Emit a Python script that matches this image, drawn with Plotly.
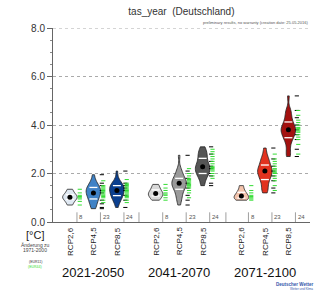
import numpy as np
import plotly.graph_objects as go

# ---------------- data ----------------
periods = ["2021-2050", "2041-2070", "2071-2100"]
scenarios = ["RCP2,6", "RCP4,5", "RCP8,5"]
model_counts = [8, 23, 24]
positions = [0, 1, 2, 3.65, 4.65, 5.65, 7.3, 8.3, 9.3]
separators = [2.94, 6.64]

eur11 = [
    [],
    [0.55, 0.6, 0.75, 0.9, 1.2, 1.3, 1.5, 1.6, 1.95],
    [0.6, 0.9, 1.1, 1.3, 1.4, 1.5, 1.6, 2.1],
    [],
    [0.7, 0.9, 1.1, 1.4, 1.6, 1.8, 2.1, 2.75],
    [1.5, 1.6, 1.9, 2.0, 2.2, 2.3, 2.5, 2.8, 3.1],
    [],
    [1.2, 1.4, 1.7, 1.9, 2.1, 2.3, 2.6, 3.05],
    [2.7, 3.0, 3.4, 3.6, 3.8, 4.0, 4.3, 4.6, 5.2],
]
eur44 = [
    [0.7, 0.85, 0.95, 1.0, 1.05, 1.1, 1.2, 1.35],
    [0.8, 0.9, 1.0, 1.05, 1.1, 1.15, 1.2, 1.25, 1.3, 1.35, 1.4, 1.45, 1.5, 1.7],
    [0.8, 0.9, 1.0, 1.05, 1.1, 1.15, 1.2, 1.25, 1.3, 1.35, 1.4, 1.45, 1.5, 1.55, 1.6, 1.75],
    [0.9, 1.0, 1.1, 1.15, 1.2, 1.3, 1.4, 1.55],
    [1.0, 1.2, 1.3, 1.4, 1.45, 1.5, 1.55, 1.6, 1.65, 1.7, 1.75, 1.8, 1.9, 2.0, 2.2],
    [1.8, 1.9, 2.0, 2.1, 2.15, 2.2, 2.25, 2.3, 2.4, 2.5, 2.6, 2.7, 2.8, 2.9, 3.0],
    [0.9, 0.95, 1.0, 1.05, 1.1, 1.2, 1.3, 1.5],
    [1.3, 1.5, 1.7, 1.8, 1.9, 2.0, 2.05, 2.1, 2.15, 2.2, 2.3, 2.4, 2.5, 2.6, 2.8],
    [2.8, 3.2, 3.4, 3.5, 3.6, 3.7, 3.75, 3.8, 3.85, 3.9, 4.0, 4.1, 4.2, 4.4, 4.6],
]
fill_colors = ["#dfe8f2", "#3f82c6", "#0b3f8f",
               "#d8d8d8", "#9a9a9a", "#555555",
               "#f4c4ad", "#e2321f", "#a3110f"]
y_ticks = [0, 2, 4, 6, 8]
y_tick_labels = ["0.0", "2.0", "4.0", "6.0", "8.0"]

# plot area in pixels (for converting label positions to paper coords)
L, R, T, B = 53, 310, 28, 222


def px(xp):
    return (xp - L) / (R - L)


def py(yp):
    return (B - yp) / (B - T)


fig = go.Figure()

for i, pos in enumerate(positions):
    vals = np.array(eur11[i] + eur44[i])
    fig.add_trace(go.Violin(
        x=[pos] * len(vals), y=vals, width=0.62, scalemode="width",
        spanmode="hard", bandwidth=0.17 if np.ptp(vals) > 1 else 0.11,
        fillcolor=fill_colors[i], line=dict(color="#222222", width=0.8),
        points=False, box_visible=False, meanline_visible=False,
        opacity=1, hoverinfo="skip", showlegend=False))
    q1, q3 = np.percentile(vals, [25, 75])
    for q in (q1, q3):
        fig.add_trace(go.Scatter(
            x=[pos - 0.17, pos + 0.17], y=[q, q], mode="lines",
            line=dict(color="white", width=1.3), showlegend=False,
            hoverinfo="skip"))
    fig.add_trace(go.Scatter(
        x=[pos], y=[np.median(vals)], mode="markers",
        marker=dict(color="black", size=5), showlegend=False))
    if eur11[i]:
        fig.add_trace(go.Scatter(
            x=[pos + 0.36] * len(eur11[i]), y=eur11[i], mode="markers",
            marker=dict(symbol="line-ew", size=3,
                        line=dict(color="black", width=1)),
            showlegend=False))
    fig.add_trace(go.Scatter(
        x=[pos + 0.42] * len(eur44[i]), y=eur44[i], mode="markers",
        marker=dict(symbol="line-ew", size=3,
                    line=dict(color="#33dd33", width=1)),
        showlegend=False))

shapes = []
annotations = []
for i, pos in enumerate(positions):
    shapes.append(dict(type="line", xref="x", yref="y",
                       x0=pos + 0.3, x1=pos + 0.3, y0=0, y1=0.4,
                       line=dict(color="#888888", width=0.8)))
    annotations.append(dict(x=pos + 0.32, y=0.0, xref="x", yref="y",
                            text=str(model_counts[i % 3]), showarrow=False,
                            xanchor="left", yanchor="bottom",
                            font=dict(size=6, color="#555555")))
    annotations.append(dict(x=pos, y=py(241), xref="x", yref="paper",
                            text=scenarios[i % 3], textangle=-90,
                            showarrow=False, xanchor="center",
                            yanchor="middle",
                            font=dict(size=8, color="#222222",
                                      family="Liberation Sans")))
for s in separators:
    shapes.append(dict(type="line", xref="x", yref="y", x0=s, x1=s,
                       y0=0, y1=0.4, line=dict(color="#888888", width=0.8)))
for g in range(3):
    annotations.append(dict(x=positions[3 * g + 1], y=py(272), xref="x",
                            yref="paper", text=periods[g], showarrow=False,
                            xanchor="center", yanchor="middle",
                            font=dict(size=13, color="#111111",
                                      family="Liberation Sans")))

left = [("[°C]", 235, 11, "#222222"),
        ("Änderung zu", 245, 5, "#444444"),
        ("1971-2000", 250, 5, "#444444"),
        ("(EUR11)", 262, 3.5, "#333333"),
        ("(EUR44)", 267, 3.5, "#33dd33")]
for txt, ypx, sz, col in left:
    annotations.append(dict(x=px(35), y=py(ypx), xref="paper",
                            yref="paper", text=txt, showarrow=False,
                            xanchor="center", yanchor="middle",
                            font=dict(size=sz, color=col,
                                      family="Liberation Sans")))

annotations.append(dict(x=1, y=1.003, xref="paper", yref="paper",
                        text="preliminary results, no warranty (creation date: 25.05.2016)",
                        showarrow=False, xanchor="right", yanchor="bottom",
                        font=dict(size=4, color="#555555")))
annotations.append(dict(x=px(315), y=py(284), xref="paper", yref="paper",
                        text="<b>Deutscher Wetter</b>", showarrow=False,
                        xanchor="right", yanchor="middle",
                        font=dict(size=4.5, color="#3355aa")))
annotations.append(dict(x=px(315), y=py(289), xref="paper", yref="paper",
                        text="Wetter und Klima", showarrow=False,
                        xanchor="right", yanchor="middle",
                        font=dict(size=3, color="#3355aa")))

fig.update_layout(
    width=316, height=294,
    margin=dict(l=L, r=316 - R, t=T, b=294 - B),
    paper_bgcolor="white", plot_bgcolor="white",
    font=dict(family="Liberation Sans"),
    title=dict(text="tas_year&nbsp;&nbsp;(Deutschland)", x=0.574, y=0.96,
               xanchor="center", yanchor="middle",
               font=dict(size=10, color="#333333")),
    xaxis=dict(range=[-0.72, 10.22], showticklabels=False, ticks="",
               showgrid=False, zeroline=False, showline=True,
               linecolor="#666666", linewidth=1),
    yaxis=dict(range=[0, 8.0], tickvals=y_ticks, ticktext=y_tick_labels,
               ticks="outside", ticklen=5, tickcolor="#666666",
               showline=True, linecolor="#666666", linewidth=1,
               showgrid=True, gridcolor="#aaaaaa", griddash="dot",
               gridwidth=1, zeroline=False,
               tickfont=dict(size=10, color="#333333"),
               minor=dict(dtick=0.5, ticks="outside", ticklen=2,
                          tickcolor="#888888", showgrid=False)),
    shapes=shapes, annotations=annotations,
)
fig.add_shape(type="line", xref="paper", yref="y", x0=0, x1=1, y0=8, y1=8,
              line=dict(color="#aaaaaa", width=1, dash="dot"))

fig.write_html("out.html", config={"displayModeBar": False},
               post_script="document.body.style.margin='0px';")
